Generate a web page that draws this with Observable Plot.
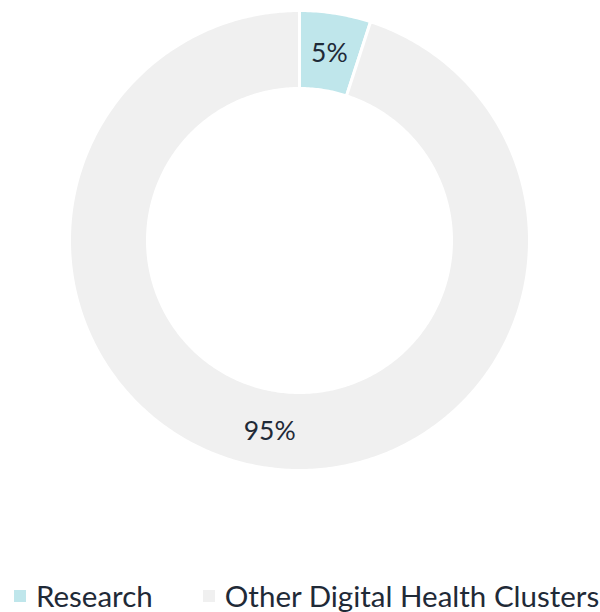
<!DOCTYPE html>
<html>
<head>
<meta charset="utf-8">
<script src="https://cdn.jsdelivr.net/npm/d3@7"></script>
<script src="https://cdn.jsdelivr.net/npm/@observablehq/plot@0.6"></script>
<style>
  html, body { margin: 0; padding: 0; background: #fff; }
  body { width: 600px; height: 612px; overflow: hidden; font-family: Lato, "Open Sans", sans-serif; }
  #legend { display: flex; align-items: center; padding-top: 99px; padding-left: 14px; font-size: 29.5px; color: #1f2a37; line-height: 34px; white-space: nowrap; }
  .item { display: flex; align-items: center; margin-right: 50px; }
  .sw { width: 12px; height: 12px; margin-right: 10px; }
</style>
</head>
<body>
<div id="chart"></div>
<div id="legend"></div>
<script>
const categories = ["Research", "Other Digital Health Clusters"];
const shares = [5, 95];
const labels = ["5%", "95%"];
const colors = ["#bfe6eb", "#f0f0f0"];

const outerR = 230, innerR = 152;
const pie = d3.pie().sort(null).value(d => d.value)(categories.map((c, i) => ({cat: c, value: shares[i], label: labels[i]})));

// Build polygon points for each slice from pie angles
const pts = [];
pie.forEach(s => {
  const n = Math.max(8, Math.ceil((s.endAngle - s.startAngle) * 80));
  const ring = [];
  for (let k = 0; k <= n; k++) {
    const a = s.startAngle + (s.endAngle - s.startAngle) * k / n;
    ring.push([Math.sin(a) * outerR, Math.cos(a) * outerR]);
  }
  for (let k = n; k >= 0; k--) {
    const a = s.startAngle + (s.endAngle - s.startAngle) * k / n;
    ring.push([Math.sin(a) * innerR, Math.cos(a) * innerR]);
  }
  ring.push(ring[0]);
  ring.forEach(([x, y]) => pts.push({cat: s.data.cat, x, y}));
});
const labelPts = pie.map(s => {
  const a = (s.startAngle + s.endAngle) / 2, r = (outerR + innerR) / 2;
  return {x: Math.sin(a) * r, y: Math.cos(a) * r, label: s.data.label};
});

const plot = Plot.plot({
  width: 600, height: 480,
  margin: 0,
  x: {domain: [-299, 301], axis: null},
  y: {domain: [-240, 240], axis: null},
  color: {domain: categories, range: colors},
  marks: [
    Plot.line(pts, {x: "x", y: "y", z: "cat", fill: "cat", stroke: "white", strokeWidth: 3, curve: "linear"}),
    Plot.text(labelPts, {x: "x", y: "y", text: "label", fontSize: 26.5, fill: "#1f2a37", fontFamily: "Lato", dy: 2})
  ]
});
document.getElementById("chart").appendChild(plot);

const legend = document.getElementById("legend");
categories.forEach((c, i) => {
  const item = document.createElement("div");
  item.className = "item";
  const sw = document.createElement("div");
  sw.className = "sw";
  sw.style.background = colors[i];
  const t = document.createElement("span");
  t.textContent = c;
  item.appendChild(sw); item.appendChild(t);
  legend.appendChild(item);
});
</script>
</body>
</html>
